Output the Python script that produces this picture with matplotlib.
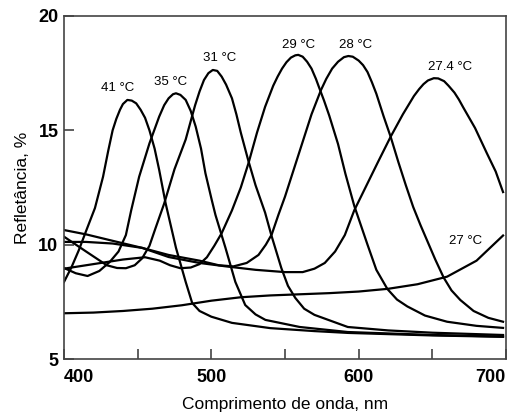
import matplotlib as mpl
mpl.use('Agg')
import matplotlib.pyplot as plt

plt.rcParams['font.family'] = ['Liberation Sans', 'DejaVu Sans']

# reflectance curves (wavelength nm, reflectance %)
wl_41 = [400, 405, 410, 415, 421, 426.5, 430, 433, 435.5, 438, 440, 443, 446, 449, 452, 455, 458,
         461.5, 464.6, 469, 476, 482.6, 487, 492, 500, 514, 540, 570, 593, 650, 698]
r_41 = [8.37, 9.0, 9.75, 10.6, 11.6, 12.97, 14.1, 15.0, 15.5, 15.9, 16.15, 16.33, 16.3, 16.18, 15.9, 15.55, 15.0,
        14.2, 13.27, 11.8, 9.86, 8.37, 7.45, 7.1, 6.85, 6.58, 6.35, 6.22, 6.14, 6.03, 5.97]

wl_35 = [400, 408, 416, 424, 431, 437, 442, 445.6, 451, 458, 464.6, 468, 471, 474, 476, 479, 482.6,
         486, 489.4, 493, 496, 500.3, 502.8, 509.6, 516.3, 523, 530, 536.7, 560, 592.6, 650, 698]
r_35 = [8.98, 8.75, 8.63, 8.85, 9.24, 9.7, 10.42, 11.5, 12.97, 14.43, 15.6, 16.1, 16.4, 16.58, 16.62, 16.55, 16.33,
        15.85, 15.16, 14.2, 13.12, 11.95, 11.3, 9.86, 8.37, 7.36, 6.95, 6.71, 6.4, 6.18, 6.05, 5.98]

wl_31 = [400, 415, 429, 436, 442, 448, 453, 458, 462, 468, 475, 482.6, 486, 489, 492, 495, 498, 501,
         504, 507, 510, 514, 517, 520, 525, 530, 536.5, 540.7, 547.5, 552, 557, 563, 570, 592.6, 620,
         650, 698]
r_31 = [10.35, 9.7, 9.1, 8.98, 8.97, 9.1, 9.4, 9.95, 10.7, 11.8, 13.3, 14.6, 15.4, 16.1, 16.7, 17.2, 17.5, 17.64,
        17.6, 17.35, 17.0, 16.4, 15.7, 14.9, 13.7, 12.6, 11.4, 10.42, 8.98, 8.2, 7.67, 7.2, 6.93, 6.4, 6.25,
        6.15, 6.05]

wl_29 = [400, 420, 440, 455, 465, 472, 479, 486, 492, 497, 502, 507, 514, 520, 525.2, 531, 536.5,
         542, 545, 548, 551, 554, 557, 559, 562, 565, 568, 571, 573, 576.5, 580, 586, 591, 597, 606,
         612, 619.5, 626, 633, 645, 660, 680, 698]
r_29 = [8.95, 9.15, 9.35, 9.45, 9.3, 9.1, 8.97, 9.0, 9.15, 9.45, 9.95, 10.5, 11.5, 12.5, 13.56, 14.9, 16.03,
        16.95, 17.35, 17.7, 17.98, 18.18, 18.28, 18.3, 18.22, 18.0, 17.7, 17.25, 16.9, 16.3, 15.65, 14.4, 13.1,
        11.7, 10.0, 8.9, 8.06, 7.6, 7.3, 6.9, 6.63, 6.45, 6.36]

wl_28 = [400, 415, 433, 453, 471, 492, 505, 515, 524, 532, 537, 541, 545.5, 550, 556, 562, 568,
         574.4, 578, 582, 586, 590, 593, 596, 600, 603, 606, 609, 612, 617, 621.7, 627, 632, 637, 642,
         647, 652, 657.7, 663, 669, 678, 688, 698]
r_28 = [10.12, 10.12, 10.05, 9.86, 9.55, 9.3, 9.1, 9.05, 9.2, 9.55, 10.0, 10.45, 11.3, 12.1, 13.3, 14.5, 15.7,
        16.76, 17.25, 17.7, 18.0, 18.2, 18.25, 18.22, 18.05, 17.85, 17.55, 17.1, 16.6, 15.6, 14.72, 13.6, 12.6,
        11.65, 10.85, 10.1, 9.35, 8.56, 8.0, 7.58, 7.1, 6.8, 6.63]

wl_274 = [400, 415, 431, 453, 471, 492, 510, 530, 550, 562, 570, 577, 584, 590.6, 597, 605, 613,
          621.7, 630, 637.5, 641, 644, 647, 651, 654, 658, 661, 665, 668, 671, 679, 687, 693, 698]
r_274 = [10.64, 10.45, 10.2, 9.86, 9.46, 9.2, 9.05, 8.9, 8.8, 8.8, 8.95, 9.2, 9.7, 10.42, 11.5, 12.55, 13.6,
         14.72, 15.7, 16.5, 16.8, 17.02, 17.18, 17.28, 17.27, 17.15, 16.95, 16.65, 16.35, 16.0, 15.1, 14.0,
         13.2, 12.3]

wl_27 = [400, 420, 440, 460, 480, 500, 520, 540, 560, 580, 600, 620, 640, 660, 680, 698]
r_27 = [7.0, 7.03, 7.1, 7.2, 7.35, 7.55, 7.7, 7.78, 7.83, 7.88, 7.95, 8.07, 8.27, 8.6, 9.3, 10.4]

curves = [(wl_41, r_41), (wl_35, r_35), (wl_31, r_31), (wl_29, r_29),
          (wl_28, r_28), (wl_274, r_274), (wl_27, r_27)]

# temperature labels and where they sit
labels = ['41 °C', '35 °C', '31 °C', '29 °C', '28 °C', '27.4 °C', '27 °C']
label_x = [436.4, 472, 505.7, 559, 598, 662, 672.7]
label_y = [16.85, 17.1, 18.16, 18.75, 18.75, 17.77, 10.16]

fig = plt.figure(figsize=(5.08, 4.18), dpi=100)
ax = fig.add_axes([64 / 508, 1 - 359 / 418, 442 / 508, 343 / 418])

for wl, r in curves:
    ax.plot(wl, r, color='black', linewidth=1.6, solid_joinstyle='round')

for lab, lx, ly in zip(labels, label_x, label_y):
    ax.text(lx, ly, lab, ha='center', va='center', fontsize=9.5)

ax.set_xlim(400, 700)
ax.set_ylim(5, 20)
ax.set_xticks([400, 450, 500, 550, 600, 650, 700])
ax.set_xticklabels(['400', '', '500', '', '600', '', '700'])
ax.set_yticks([5, 10, 15, 20])
ax.tick_params(direction='in', length=7.5, width=1.1, color='#333333')
ax.tick_params(axis='x', pad=7, labelsize=13)
ax.tick_params(axis='y', pad=4, labelsize=13)
for t in ax.get_xticklabels() + ax.get_yticklabels():
    t.set_fontweight('bold')
xt = ax.get_xticklabels()
xt[0].set_ha('left')
xt[-1].set_ha('right')
for s in ax.spines.values():
    s.set_linewidth(1.2)
    s.set_color('#444444')

ax.set_xlabel('Comprimento de onda, nm', fontsize=12.5, labelpad=8)
ax.set_ylabel('Refletância, %', fontsize=12.5, labelpad=6)

fig.savefig('out.png', dpi=100)
